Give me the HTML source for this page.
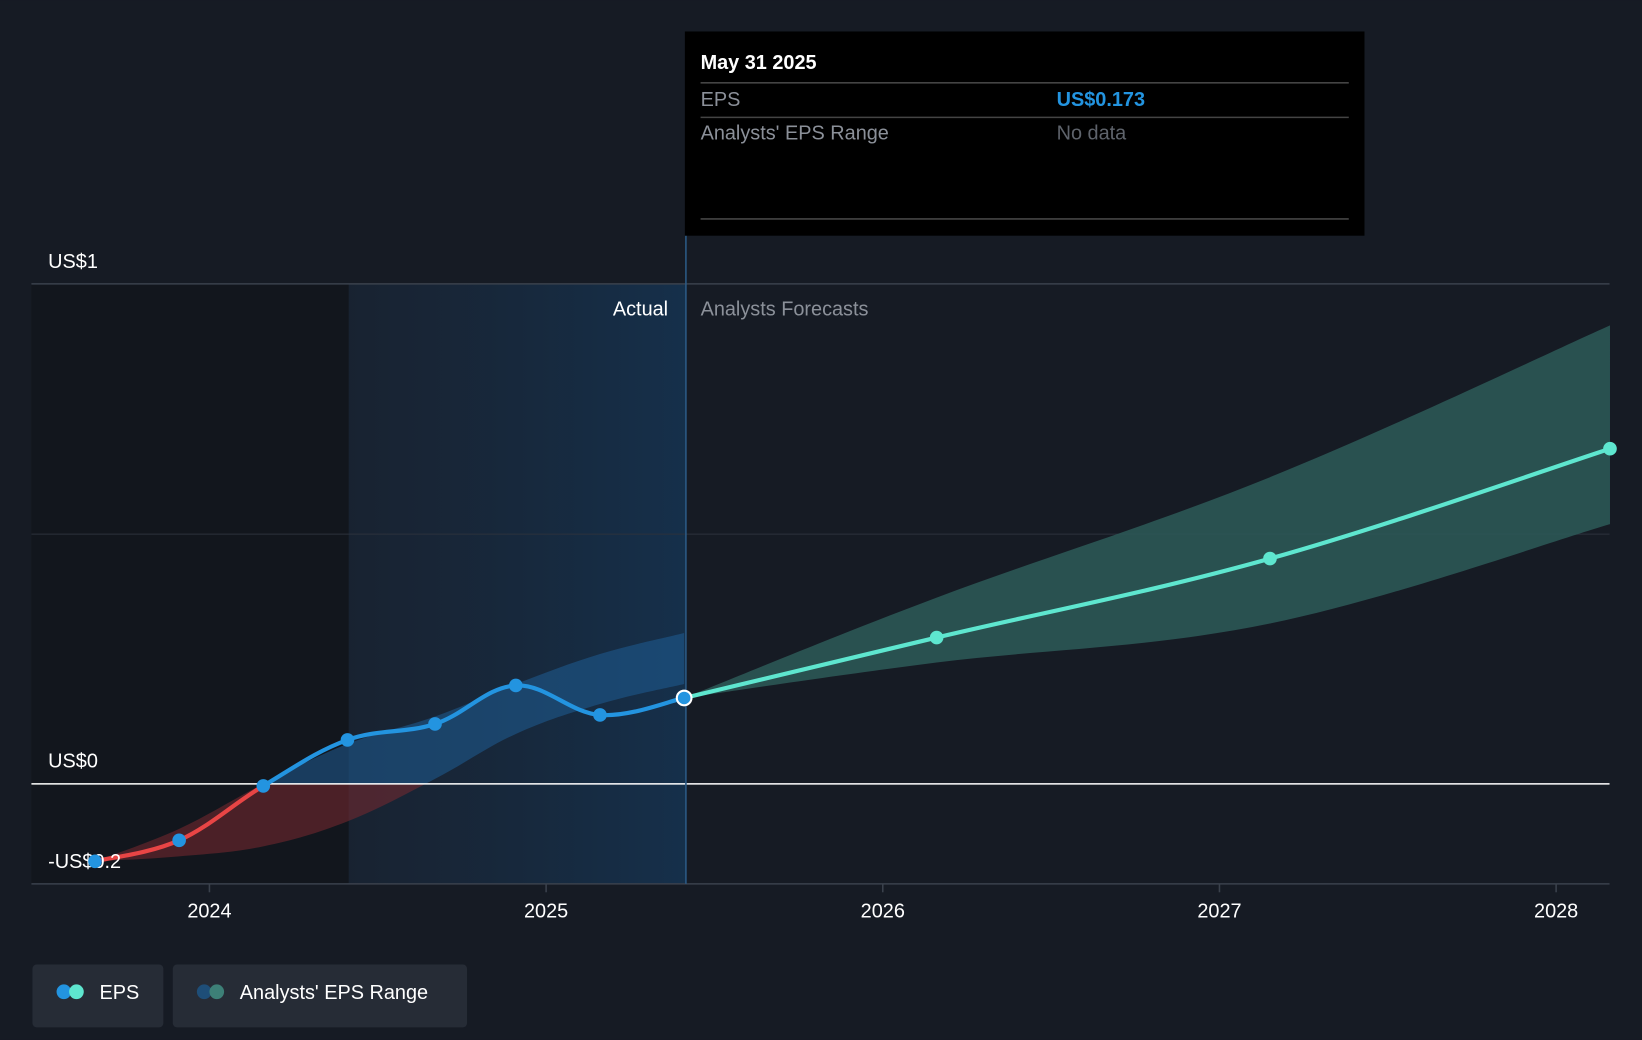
<!DOCTYPE html>
<html><head><meta charset="utf-8"><style>
html,body{margin:0;padding:0;background:#161b24;width:1642px;height:1040px;overflow:hidden}
svg{display:block;font-family:"Liberation Sans",Roboto,sans-serif}
</style></head><body>
<svg id="chart" width="1642" height="1040" viewBox="0 0 1568 993" xmlns="http://www.w3.org/2000/svg">
<defs>
<linearGradient id="actGrad" x1="0" x2="1" y1="0" y2="0"><stop offset="0" stop-color="#1a2a3e" stop-opacity="0.5"/><stop offset="1" stop-color="#15324f" stop-opacity="0.9"/></linearGradient>
<clipPath id="above"><rect x="0" y="0" width="1568" height="749"/></clipPath>
<clipPath id="below"><rect x="0" y="749" width="1568" height="300"/></clipPath>
</defs>
<rect width="1568" height="993" fill="#161b24"/>
<rect x="30" y="271" width="303" height="573" fill="#12161d"/>
<rect x="333" y="271" width="322" height="573" fill="url(#actGrad)"/>
<line x1="30" y1="271" x2="1537" y2="271" stroke="#3a414c" stroke-width="1.5"/>
<line x1="30" y1="510" x2="1537" y2="510" stroke="#2c323c" stroke-width="1"/>
<line x1="30" y1="844" x2="1537" y2="844" stroke="#3a414c" stroke-width="1.5"/>
<g id="bands"></g>
<line x1="30" y1="748.5" x2="1537" y2="748.5" stroke="#ffffff" stroke-width="1.5"/>
<line x1="655" y1="225" x2="655" y2="844" stroke="#2b5a85" stroke-width="1.5"/>
<g id="lines"></g>
<text x="46" y="256" fill="#fff" font-size="19">US$1</text>
<text x="46" y="733" fill="#fff" font-size="19">US$0</text>
<text x="46" y="829" fill="#fff" font-size="19">-US$0.2</text>
<text x="638" y="301" fill="#fff" font-size="19" text-anchor="end">Actual</text>
<text x="669" y="301" fill="#8b9099" font-size="19">Analysts Forecasts</text>
<g id="xticks"></g>
<g id="dots"></g>
<g>
<rect x="654" y="30" width="649" height="195" fill="#000"/>
<text x="669" y="66" fill="#fff" font-size="19" font-weight="bold">May 31 2025</text>
<line x1="669" y1="79" x2="1288" y2="79" stroke="#444" stroke-width="1.5"/>
<text x="669" y="101" fill="#8b9099" font-size="19">EPS</text>
<text x="1009" y="101" fill="#2394e0" font-size="19" font-weight="bold">US$0.173</text>
<line x1="669" y1="112" x2="1288" y2="112" stroke="#444" stroke-width="1.5"/>
<text x="669" y="133" fill="#8b9099" font-size="19">Analysts' EPS Range</text>
<text x="1009" y="133" fill="#5e636b" font-size="19">No data</text>
<line x1="669" y1="209" x2="1288" y2="209" stroke="#444" stroke-width="1.5"/>
</g>
<g>
<rect x="31" y="921" width="125" height="60" rx="4" fill="#262c36"/>
<circle cx="61" cy="947" r="7" fill="#2394e0"/><circle cx="73" cy="947" r="7" fill="#5ee6cf"/>
<text x="95" y="954" fill="#fff" font-size="19">EPS</text>
</g>
<g>
<rect x="165" y="921" width="281" height="60" rx="4" fill="#262c36"/>
<circle cx="195" cy="947" r="7" fill="#1e4e78"/><circle cx="207" cy="947" r="7" fill="#3d8077"/>
<text x="229" y="954" fill="#fff" font-size="19">Analysts' EPS Range</text>
</g>
</svg>
<script>
const actDates=[2023.66,2023.91,2024.16,2024.41,2024.67,2024.91,2025.16,2025.41];
const actEps=[-0.155,-0.113,-0.004,0.088,0.12,0.197,0.138,0.172];
const actLow=[-0.155,-0.145,-0.125,-0.075,0.01,0.1,0.16,0.2];
const actHigh=[-0.155,-0.09,0.0,0.08,0.135,0.2,0.26,0.302];
const fcDates=[2025.41,2026.16,2027.15,2028.16];
const fcEps=[0.172,0.293,0.451,0.671];
const fcLow=[0.172,0.243,0.321,0.52];
const fcHigh=[0.172,0.373,0.614,0.918];
const xTicks=[2024,2025,2026,2027,2028];
const X=d=>200+(d-2024)*321.5;
const Y=v=>748.5-v*477;
const NS="http://www.w3.org/2000/svg";
function mk(tag,attrs,parent){const e=document.createElementNS(NS,tag);for(const k in attrs)e.setAttribute(k,attrs[k]);document.getElementById(parent).appendChild(e);return e;}
function smooth(pts){let d="M"+pts[0][0]+","+pts[0][1];for(let i=0;i<pts.length-1;i++){const p0=pts[i-1]||pts[i],p1=pts[i],p2=pts[i+1],p3=pts[i+2]||p2;const t=0.18;d+=" C"+(p1[0]+(p2[0]-p0[0])*t)+","+(p1[1]+(p2[1]-p0[1])*t)+" "+(p2[0]-(p3[0]-p1[0])*t)+","+(p2[1]-(p3[1]-p1[1])*t)+" "+p2[0]+","+p2[1];}return d;}
function rev(d){return d;}
function band(dates,lo,hi){const up=dates.map((d,i)=>[X(d),Y(hi[i])]);const dn=dates.map((d,i)=>[X(d),Y(lo[i])]).reverse();return smooth(up)+" L"+dn[0][0]+","+dn[0][1]+smooth(dn).replace(/^M[^C]*/," ")+"Z";}
const ab=band(actDates,actLow,actHigh);
let e=mk("path",{d:ab,fill:"#1f5d93","fill-opacity":"0.55","clip-path":"url(#above)"},"bands");


e=mk("path",{d:ab,fill:"#7a2a30","fill-opacity":"0.55","clip-path":"url(#below)"},"bands");


e=mk("path",{d:band(fcDates,fcLow,fcHigh),fill:"#2d5a58","fill-opacity":"0.85"},"bands");


const ap=smooth(actDates.map((d,i)=>[X(d),Y(actEps[i])]));
e=mk("path",{d:ap,fill:"none",stroke:"#2394e0","stroke-width":4,"clip-path":"url(#above)"},"lines");


e=mk("path",{d:ap,fill:"none",stroke:"#e84545","stroke-width":4,"clip-path":"url(#below)"},"lines");


e=mk("path",{d:smooth(fcDates.map((d,i)=>[X(d),Y(fcEps[i])])),fill:"none",stroke:"#5ee6cf","stroke-width":4},"lines");


actDates.forEach((d,i)=>{const last=i===actDates.length-1;
const c=mk("circle",{cx:X(d),cy:Y(actEps[i]),r:last?7:6.5,fill:last?"#fff":"#2394e0",stroke:last?"#2394e0":"none","stroke-width":2},"dots");
if(last){c.setAttribute("r",7);c.setAttribute("fill","#2394e0");c.setAttribute("stroke","#fff");}

});
fcDates.slice(1).forEach((d,i)=>{const c=mk("circle",{cx:X(d),cy:Y(fcEps[i+1]),r:6.5,fill:"#5ee6cf"},"dots");

});
xTicks.forEach(t=>{mk("line",{x1:X(t),x2:X(t),y1:844,y2:852,stroke:"#3a414c","stroke-width":1.5},"xticks");
const tx=mk("text",{x:X(t),y:876,fill:"#fff","font-size":19,"text-anchor":"middle"},"xticks");tx.textContent=t;

});
</script>
</body></html>
